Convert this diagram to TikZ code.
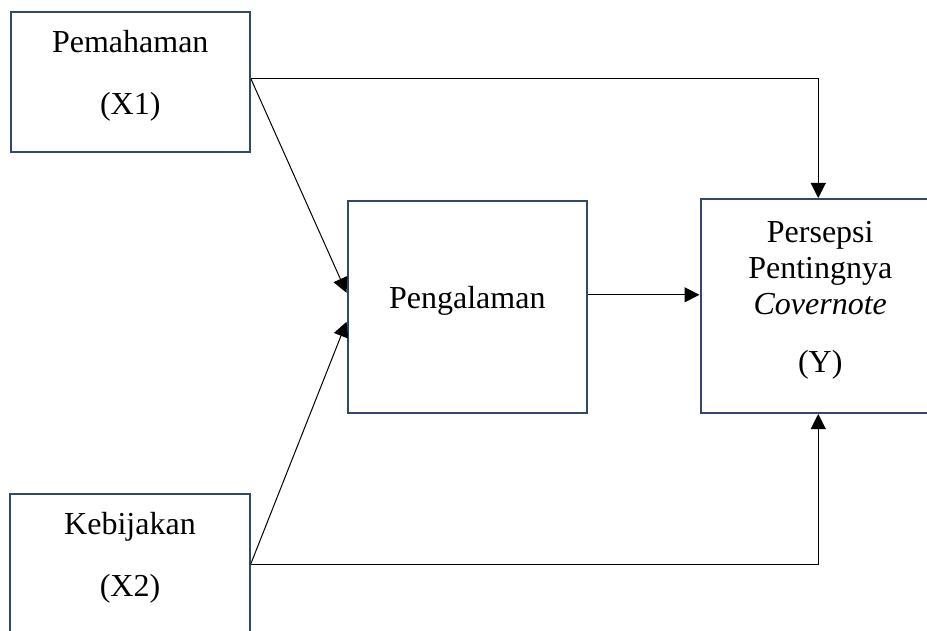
\documentclass[tikz,border=0pt]{standalone}
\usepackage{fontspec}
\setmainfont{Liberation Serif}
\usetikzlibrary{arrows.meta,positioning}
\definecolor{boxblue}{RGB}{46,74,104}
\tikzset{
	varbox/.style = {rectangle, draw=boxblue, line width=1pt, inner sep=0pt, minimum width=119.75pt},
	vartext/.style = {align=center, font=\fontsize{16}{18}\selectfont, yshift=3pt},
	link/.style = {line width=0.5pt}
}

\begin{document}
\begin{tikzpicture}[->, >={Triangle[length=7.5pt,width=7.5pt]}, x=0.5pt, y=-0.5pt]
	\useasboundingbox (0,0) rectangle (927,631);
	% variables
	\node [varbox, minimum height=70pt, label={[vartext]center:{Pemahaman\\[13pt](X1)}}] (x1) at (130.25,82) {};
	\node [varbox, minimum height=70pt, label={[vartext]center:{Kebijakan\\[13pt](X2)}}] (x2) at (130,564) {};
	\node [varbox, minimum height=106.25pt, label={[vartext]center:Pengalaman}] (peng) at (467.3,306.8) {};
	\node [varbox, minimum height=107pt, label={[vartext]center:{Persepsi\\Pentingnya\\\textit{Covernote}\\[11pt](Y)}}] (y) at (820.25,306) {};
	% paths
	\draw [link] ([yshift=1.5pt]x1.east) -| ([xshift=-1pt]y.north);
	\draw [link] ([yshift=1.5pt]x1.east) -- ([yshift=7pt]peng.west);
	\draw [link] (x2.east) -- ([yshift=-7.5pt]peng.west);
	\draw [link] (x2.east) -| ([xshift=-1pt]y.south);
	\coordinate (pe) at ([yshift=6pt]peng.east);
	\draw [link] (pe) -- (pe -| y.west);
\end{tikzpicture}
\end{document}
